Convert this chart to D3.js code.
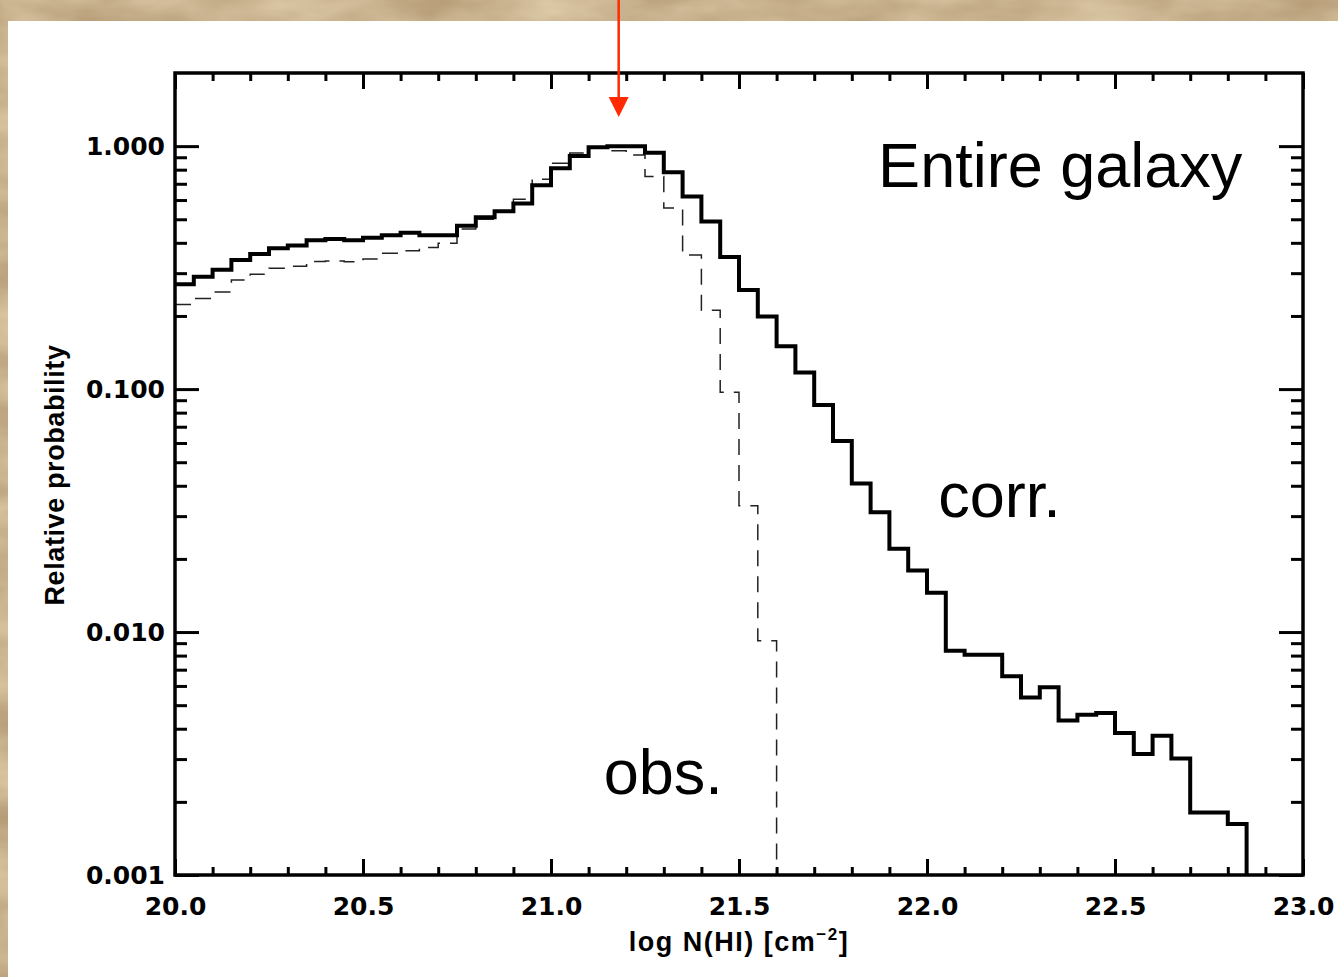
<!DOCTYPE html>
<meta charset="utf-8">
<html lang="en">
<head>
<script src="https://d3js.org/d3.v7.min.js"></script>
<style>
body { margin: 0; background: #c7ae86; overflow: hidden; }
.tick text { font-family: "DejaVu Sans", sans-serif; font-weight: bold; font-size: 25px; fill: #000; }
.note { font-family: "Liberation Sans", Arial, sans-serif; font-size: 63px; fill: #000; }
.atitle { font-family: "Liberation Sans", Arial, sans-serif; font-weight: bold; fill: #000; }
</style>
</head>
<body>
<div id="my_dataviz"></div>
<script>
// left edges of the 0.05 dex bins, log N(HI)
var binEdges = [20.00, 20.05, 20.10, 20.15, 20.20, 20.25, 20.30, 20.35, 20.40, 20.45,
                20.50, 20.55, 20.60, 20.65, 20.70, 20.75, 20.80, 20.85, 20.90, 20.95,
                21.00, 21.05, 21.10, 21.15, 21.20, 21.25, 21.30, 21.35, 21.40, 21.45,
                21.50, 21.55, 21.60, 21.65, 21.70, 21.75, 21.80, 21.85, 21.90, 21.95,
                22.00, 22.05, 22.10, 22.15, 22.20, 22.25, 22.30, 22.35, 22.40, 22.45,
                22.50, 22.55, 22.60, 22.65, 22.70, 22.75, 22.80];
var binWidth = 0.05;

// corrected distribution (solid)
var corrValues = [0.27, 0.29, 0.31, 0.34, 0.36, 0.38, 0.39, 0.41, 0.415, 0.41,
                  0.42, 0.43, 0.44, 0.43, 0.43, 0.47, 0.51, 0.54, 0.58, 0.69,
                  0.81, 0.91, 0.99, 1.0, 1.0, 0.94, 0.78, 0.62, 0.49, 0.35,
                  0.256, 0.199, 0.150, 0.117, 0.086, 0.0612, 0.0409, 0.0311, 0.0220, 0.0179,
                  0.0145, 0.00838, 0.00807, 0.00807, 0.00657, 0.00538, 0.00592, 0.00432, 0.00457, 0.00464,
                  0.00384, 0.00315, 0.00374, 0.00302, 0.00181, 0.00181, 0.00162];

// observed distribution (dashed)
var obsValues = [0.223, 0.236, 0.251, 0.281, 0.297, 0.314, 0.320, 0.335, 0.337, 0.334,
                 0.343, 0.362, 0.371, 0.383, 0.398, 0.456, 0.50, 0.535, 0.605, 0.73,
                 0.85, 0.936, 0.985, 0.957, 0.92, 0.75, 0.556, 0.356, 0.211, 0.097,
                 0.0331, 0.0092];

var xMajorTicks = [20.0, 20.5, 21.0, 21.5, 22.0, 22.5, 23.0];
var xMinorTicks = [20.1, 20.2, 20.3, 20.4, 20.6, 20.7, 20.8, 20.9, 21.1, 21.2, 21.3, 21.4,
                   21.6, 21.7, 21.8, 21.9, 22.1, 22.2, 22.3, 22.4, 22.6, 22.7, 22.8, 22.9];
var yMajorTicks = [0.001, 0.01, 0.1, 1];
var yTickLabels = ["0.001", "0.010", "0.100", "1.000"];
var yMinorTicks = [0.002, 0.003, 0.004, 0.005, 0.006, 0.007, 0.008, 0.009,
                   0.02, 0.03, 0.04, 0.05, 0.06, 0.07, 0.08, 0.09,
                   0.2, 0.3, 0.4, 0.5, 0.6, 0.7, 0.8, 0.9];

var peakX = 21.18;
var notes = [
  {text: "Entire galaxy", x: 21.87, y: 0.678},
  {text: "corr.", x: 22.03, y: 0.0297},
  {text: "obs.", x: 21.14, y: 0.00215}
];

var width = 1338, height = 977;
var margin = {top: 73, right: 35, bottom: 102, left: 175};

var svg = d3.select("#my_dataviz")
  .append("svg")
  .attr("width", width)
  .attr("height", height);

// stone texture behind the white card
var defs = svg.append("defs");
var filt = defs.append("filter").attr("id", "stone")
  .attr("x", 0).attr("y", 0).attr("width", "100%").attr("height", "100%")
  .attr("color-interpolation-filters", "sRGB");
filt.append("feTurbulence").attr("type", "fractalNoise")
  .attr("baseFrequency", "0.008 0.02").attr("numOctaves", 4).attr("seed", 3);
filt.append("feColorMatrix").attr("type", "matrix")
  .attr("values", "0.26 0 0 0 0.66  0.30 0 0 0 0.55  0.32 0 0 0 0.40  0 0 0 0 1");

svg.append("rect").attr("width", width).attr("height", height)
  .attr("filter", "url(#stone)");
svg.append("rect").attr("x", 8).attr("y", 21)
  .attr("width", width - 8).attr("height", height - 21).attr("fill", "#fff");

var x = d3.scaleLinear().domain([20, 23]).range([margin.left, width - margin.right]);
var y = d3.scaleLog().domain([0.001, 2]).range([height - margin.bottom, margin.top]);

defs.append("clipPath").attr("id", "plotclip")
  .append("rect").attr("x", x(20)).attr("y", y(2))
  .attr("width", x(23) - x(20)).attr("height", y(0.001) - y(2));

// histogram outlines
var line = d3.line()
  .x(function (d) { return x(d[0]); })
  .y(function (d) { return y(d[1]); })
  .curve(d3.curveStepAfter);

function stepPoints(vals) {
  var pts = vals.map(function (v, i) { return [binEdges[i], v]; });
  var last = binEdges[vals.length - 1] + binWidth;
  pts.push([last, vals[vals.length - 1]]);
  pts.push([last, 0.001]);
  return pts;
}

var plot = svg.append("g").attr("clip-path", "url(#plotclip)");

plot.append("path")
  .attr("d", line(stepPoints(obsValues)))
  .attr("fill", "none")
  .attr("stroke", "#222")
  .attr("stroke-width", 1.5)
  .attr("stroke-dasharray", "16,10");

plot.append("path")
  .attr("d", line(stepPoints(corrValues)))
  .attr("fill", "none")
  .attr("stroke", "#000")
  .attr("stroke-width", 4)
  .attr("stroke-linejoin", "miter");

// axes, ticks pointing inward
function styleAxis(g) {
  g.select(".domain").remove();
  g.selectAll(".tick line").attr("stroke", "#000").attr("stroke-width", 3);
}

svg.append("g").attr("transform", "translate(0," + y(0.001) + ")")
  .call(d3.axisBottom(x).tickValues(xMajorTicks).tickSize(-16).tickPadding(22)
    .tickFormat(d3.format(".1f")))
  .call(styleAxis);
svg.append("g").attr("transform", "translate(0," + y(0.001) + ")")
  .call(d3.axisBottom(x).tickValues(xMinorTicks).tickSize(-8).tickFormat(""))
  .call(styleAxis);
svg.append("g").attr("transform", "translate(0," + y(2) + ")")
  .call(d3.axisTop(x).tickValues(xMajorTicks).tickSize(-16).tickFormat(""))
  .call(styleAxis);
svg.append("g").attr("transform", "translate(0," + y(2) + ")")
  .call(d3.axisTop(x).tickValues(xMinorTicks).tickSize(-8).tickFormat(""))
  .call(styleAxis);

svg.append("g").attr("transform", "translate(" + x(20) + ",0)")
  .call(d3.axisLeft(y).tickValues(yMajorTicks).tickSize(-24).tickPadding(10)
    .tickFormat(function (d, i) { return yTickLabels[i]; }))
  .call(styleAxis);
svg.append("g").attr("transform", "translate(" + x(20) + ",0)")
  .call(d3.axisLeft(y).tickValues(yMinorTicks).tickSize(-12).tickFormat(""))
  .call(styleAxis);
svg.append("g").attr("transform", "translate(" + x(23) + ",0)")
  .call(d3.axisRight(y).tickValues(yMajorTicks).tickSize(-24).tickFormat(""))
  .call(styleAxis);
svg.append("g").attr("transform", "translate(" + x(23) + ",0)")
  .call(d3.axisRight(y).tickValues(yMinorTicks).tickSize(-12).tickFormat(""))
  .call(styleAxis);

svg.append("rect")
  .attr("x", x(20)).attr("y", y(2))
  .attr("width", x(23) - x(20)).attr("height", y(0.001) - y(2))
  .attr("fill", "none").attr("stroke", "#000").attr("stroke-width", 3.5);

// axis titles
svg.append("text").attr("class", "atitle")
  .attr("transform", "translate(64,475) rotate(-90)")
  .attr("text-anchor", "middle")
  .style("font-size", "27px")
  .style("letter-spacing", "0.6px")
  .text("Relative probability");

var xt = svg.append("text").attr("class", "atitle")
  .attr("x", (x(20) + x(23)) / 2).attr("y", 951)
  .attr("text-anchor", "middle")
  .style("font-size", "27px")
  .style("letter-spacing", "1.5px");
xt.append("tspan").text("log  N(HI)  [cm");
xt.append("tspan").attr("dy", -11).style("font-size", "17px").text("\u22122");
xt.append("tspan").attr("dy", 11).text("]");

// labels inside the plot
svg.selectAll(".note").data(notes).enter()
  .append("text").attr("class", "note")
  .attr("x", function (d) { return x(d.x); })
  .attr("y", function (d) { return y(d.y); })
  .text(function (d) { return d.text; });

// red arrow marking the peak
var ax = x(peakX);
svg.append("line")
  .attr("x1", ax).attr("x2", ax).attr("y1", 0).attr("y2", 100)
  .attr("stroke", "#ff2a00").attr("stroke-width", 2.5);
svg.append("path")
  .attr("d", "M" + (ax - 10) + ",97 L" + (ax + 10) + ",97 L" + ax + ",117 Z")
  .attr("fill", "#ff2a00");
</script>
</body>
</html>
